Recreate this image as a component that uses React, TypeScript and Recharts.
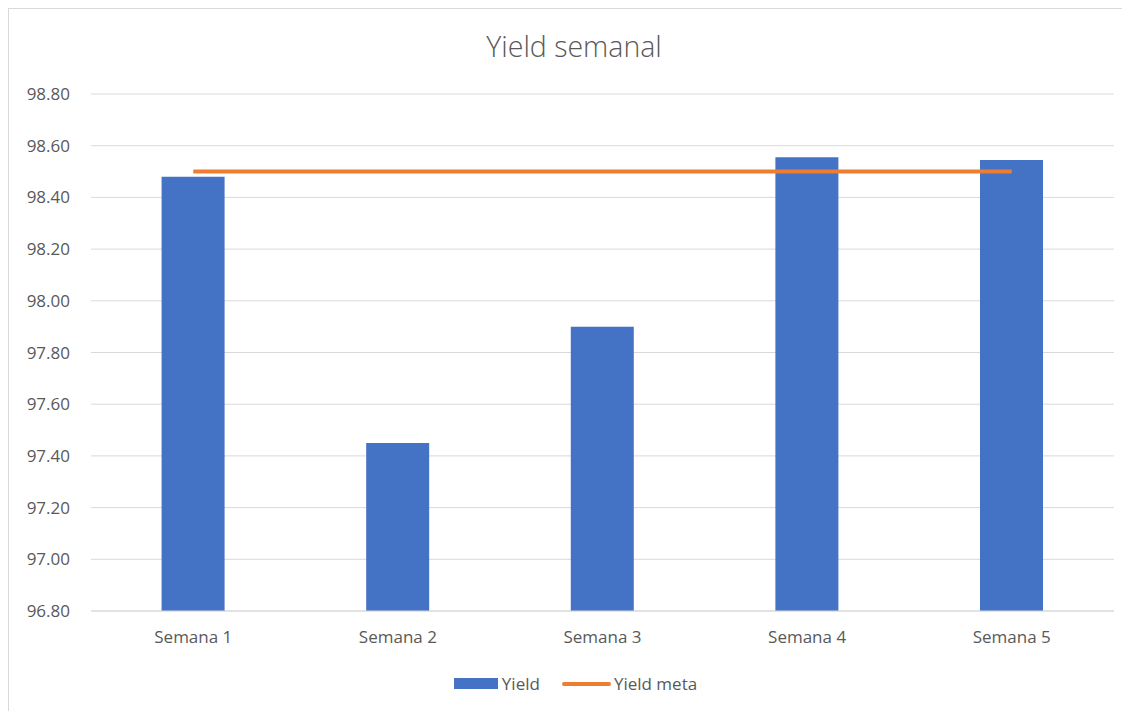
import React from "react";
import { ComposedChart, Bar, Line, XAxis, YAxis, CartesianGrid, Legend } from "recharts";

const categories = ["Semana 1", "Semana 2", "Semana 3", "Semana 4", "Semana 5"];
const yieldValues = [98.48, 97.45, 97.9, 98.555, 98.545];
const yieldMeta = [98.5, 98.5, 98.5, 98.5, 98.5];
const yTicks = [96.8, 97.0, 97.2, 97.4, 97.6, 97.8, 98.0, 98.2, 98.4, 98.6, 98.8];

const data = categories.map((c, i) => ({ name: c, Yield: yieldValues[i], meta: yieldMeta[i] }));

const FONT = "'Open Sans', 'Segoe UI', sans-serif";
const TEXT = "#595959";

const LegendContent = () => (
  <div style={{ display: "flex", justifyContent: "center", alignItems: "center", fontFamily: FONT, fontSize: 17, color: TEXT, paddingLeft: 8 }}>
    <span style={{ display: "inline-block", width: 44, height: 11, background: "#4472C4", marginRight: 4 }} />
    <span style={{ marginRight: 22 }}>Yield</span>
    <span style={{ display: "inline-block", width: 49, height: 4, background: "#ED7D31", borderRadius: 2, marginRight: 3 }} />
    <span>Yield meta</span>
  </div>
);

export default function App() {
  return (
    <div style={{ position: "relative", width: 1122, height: 703, borderTop: "1px solid #d9d9d9", borderLeft: "1px solid #d9d9d9", boxSizing: "border-box", background: "#fff" }}>
      <div style={{ position: "absolute", top: 18, left: 0, width: 1130, textAlign: "center", fontFamily: FONT, fontSize: 28.5, fontWeight: 300, color: TEXT }}>
        Yield semanal
      </div>
      <ComposedChart width={1122} height={702} data={data} margin={{ top: 85, right: 17, bottom: 5, left: 20 }} barCategoryGap="34.5%">
        <CartesianGrid vertical={false} stroke="#d9d9d9" />
        <XAxis dataKey="name" tickLine={false} axisLine={{ stroke: "#d9d9d9" }} tick={{ fill: TEXT, fontSize: 17, fontFamily: FONT }} tickMargin={14} height={55} />
        <YAxis domain={[96.8, 98.8]} ticks={yTicks} tickFormatter={(v: number) => v.toFixed(2)} axisLine={false} tickLine={false} tickSize={0} tickMargin={21} width={62} tick={{ fill: TEXT, fontSize: 17, fontFamily: FONT }} interval={0} />
        <Legend content={<LegendContent />} verticalAlign="bottom" height={40} wrapperStyle={{ bottom: -1 }} />
        <Bar dataKey="Yield" fill="#4472C4" isAnimationActive={false} />
        <Line dataKey="meta" name="Yield meta" stroke="#ED7D31" strokeWidth={4} dot={false} isAnimationActive={false} />
      </ComposedChart>
    </div>
  );
}
